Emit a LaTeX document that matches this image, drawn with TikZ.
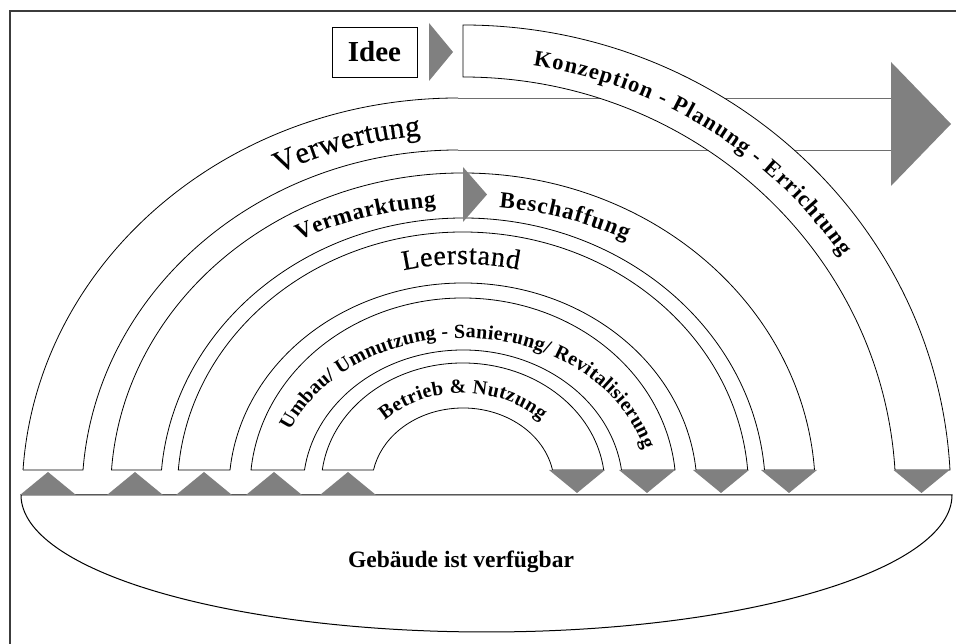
\documentclass[tikz,border=0pt]{standalone}
\usepackage{fontspec}
\setmainfont{Liberation Serif}
\newfontfamily\medserif{Liberation Serif}[BoldFont={Liberation Serif},BoldFeatures={FakeBold=0.5}]
\usetikzlibrary{decorations.text}
\definecolor{arrowgray}{RGB}{128,128,128}
\definecolor{framegray}{RGB}{60,60,60}
\definecolor{linegray}{RGB}{110,110,110}
\begin{document}
\begin{tikzpicture}[x=1pt,y=1pt,
  band/.style={fill=white,draw=black,line width=0.8pt},
  tri/.style={fill=arrowgray,draw=none},
  arctext/.style={decorate,decoration={text along path,text align=fit to path,text={#1}}}]
\useasboundingbox (0,0) rectangle (956,644);
\fill[white] (0,0) rectangle (956,644);
% frame
\draw[framegray,line width=1.3pt] (10,0) -- (10,633) -- (956,633);

% lens: building available
\draw[line width=1pt,fill=white] (21,149) -- (952,149) arc[start angle=0,end angle=-180,x radius=465.5,y radius=137] -- cycle;
\node[font=\bfseries\fontsize{23.5}{28}\selectfont] (geb) at (461,82) {Gebäude ist verfügbar};

% Verwertung band (arc + straight part)
\fill[white] ([shift={(176.39:435.87 and 397)}]458,149) arc[start angle=176.39,end angle=90,x radius=435.87,y radius=397] -- (891,546) -- (891,494) -- (458,494) arc[start angle=90,end angle=175.84,x radius=375.99,y radius=345] -- cycle;
\draw[line width=0.8pt] ([shift={(176.39:435.87 and 397)}]458,149) arc[start angle=176.39,end angle=90,x radius=435.87,y radius=397];
\draw[line width=0.8pt] (458,494) arc[start angle=90,end angle=175.84,x radius=375.99,y radius=345] -- ([shift={(176.39:435.87 and 397)}]458,149);
\draw[linegray,line width=0.8pt] (458,546) -- (891,546);
\draw[linegray,line width=0.8pt] (458,494) -- (891,494);

% Konzeption band
\draw[band] (463,619) arc[start angle=90,end angle=3.05,x radius=487.69,y radius=470] -- ([shift={(3.43:432.77 and 418)}]463,149) arc[start angle=3.43,end angle=90,x radius=432.77,y radius=418] -- cycle;

% band 2 (Vermarktung / Beschaffung)
\draw[band] ([shift={(176.05:352.34 and 319)}]463,152) arc[start angle=176.05,end angle=3.95,x radius=352.34,y radius=319] -- ([shift={(4.61:302.48 and 274)}]463,152) arc[start angle=4.61,end angle=175.39,x radius=302.48,y radius=274] -- cycle;
% band 3 (Leerstand)
\draw[band] ([shift={(175.55:285.56 and 258)}]463,154) arc[start angle=175.55,end angle=4.45,x radius=285.56,y radius=258] -- ([shift={(5.54:234.10 and 207)}]463,154) arc[start angle=5.54,end angle=174.46,x radius=234.10,y radius=207] -- cycle;
% band 4 (Umbau)
\draw[band] ([shift={(174.56:212.96 and 190)}]463,156) arc[start angle=174.56,end angle=5.44,x radius=212.96,y radius=190] -- ([shift={(7.49:159.87 and 138)}]463,156) arc[start angle=7.49,end angle=172.51,x radius=159.87,y radius=138] -- cycle;
% band 5 (Betrieb)
\draw[band] ([shift={(172.94:141.78 and 122)}]463,159) arc[start angle=172.94,end angle=7.06,x radius=141.78,y radius=122] -- ([shift={(11.23:91.25 and 77)}]463,159) arc[start angle=11.23,end angle=168.77,x radius=91.25,y radius=77] -- cycle;

% triangles up (left)
\foreach \c in {48,135,204,274,348}
  \fill[tri] (\c-28,149) -- (\c,172) -- (\c+28,149) -- cycle;
% triangles down (right)
\foreach \c in {577,647,721,789,921.5}
  \fill[tri] (\c-28,174) -- (\c,151) -- (\c+28,174) -- cycle;
% big arrow, idea arrow, middle arrow
\fill[tri] (891,582) -- (951,520) -- (891,458) -- cycle;
\fill[tri] (429,621) -- (453,592) -- (429,563) -- cycle;
\fill[tri] (463,477) -- (487,449.5) -- (463,422) -- cycle;

% Idee
\node[draw,line width=0.8pt,minimum width=85pt,minimum height=50pt,inner sep=0pt,font=\bfseries\fontsize{29}{33}\selectfont] (idee) at (374.5,592) {Idee};

% curved texts
\path[arctext={|\bfseries\fontsize{22.5}{26}\selectfont|Konzeption - Planung - Errichtung}] ([shift={(81.1:452.8 and 434.5)}]463,149) arc[start angle=81.1,end angle=33.3,x radius=452.8,y radius=434.5];
\path[arctext={|\medserif\bfseries\fontsize{30.5}{34}\selectfont|Verwertung}] ([shift={(117.1:394 and 361)}]458,149) arc[start angle=117.1,end angle=95.4,x radius=394,y radius=361];
\path[arctext={|\bfseries\fontsize{23}{27}\selectfont|Vermarktung}] ([shift={(118.4:345 and 286)}]463,152) arc[start angle=118.4,end angle=94.5,x radius=345,y radius=286];
\path[arctext={|\bfseries\fontsize{23}{27}\selectfont|Beschaffung}] ([shift={(84:345 and 286)}]463,152) arc[start angle=84,end angle=61.7,x radius=345,y radius=286];
\path[arctext={|\medserif\bfseries\fontsize{28}{32}\selectfont|Leerstand}] ([shift={(103.6:253 and 226)}]463,154) arc[start angle=103.6,end angle=77.3,x radius=253,y radius=226];
\path[arctext={|\bfseries\fontsize{20}{24}\selectfont|Umbau/ Umnutzung - Sanierung/ Revitalisierung}] ([shift={(157.6:187 and 150)}]463,156) arc[start angle=157.6,end angle=14.8,x radius=187,y radius=150];
\path[arctext={|\bfseries\fontsize{20}{24}\selectfont|Betrieb {\&} Nutzung}] ([shift={(135.3:110 and 92)}]463,159) arc[start angle=135.3,end angle=44.6,x radius=110,y radius=92];
\end{tikzpicture}
\end{document}
